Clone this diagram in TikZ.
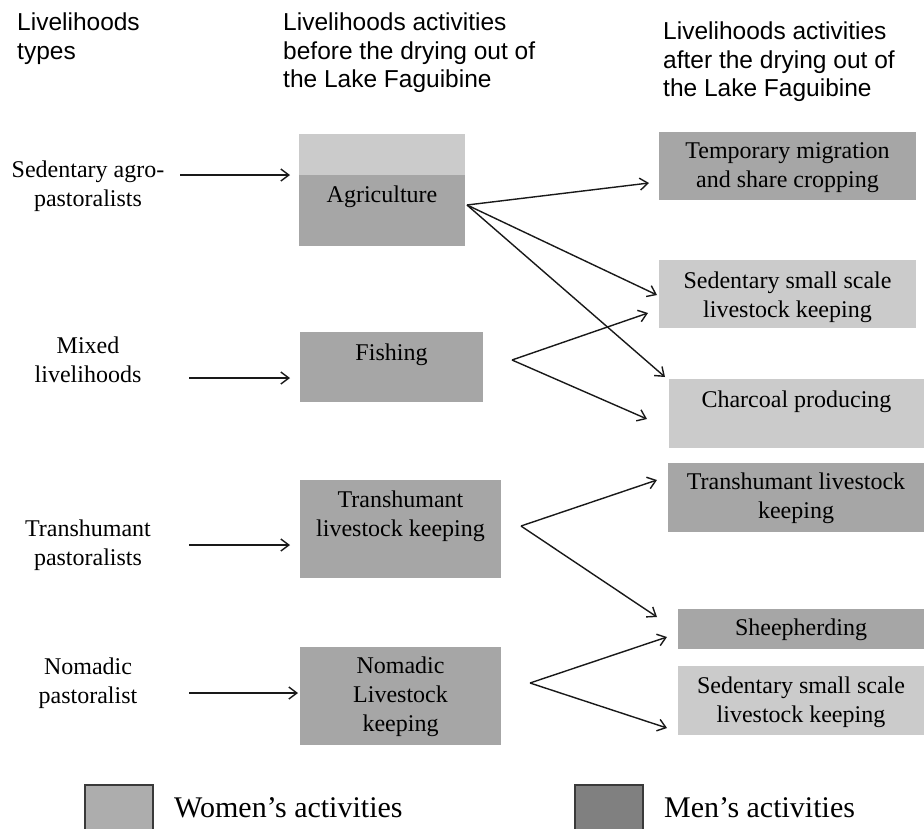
\documentclass[tikz,border=0pt]{standalone}
\usepackage{fontspec}
\setmainfont{Liberation Serif}
\newfontfamily\hdrfont{Liberation Sans}
\usetikzlibrary{arrows.meta}
\definecolor{lightg}{HTML}{CBCBCB}
\definecolor{darkg}{HTML}{A6A6A6}
\definecolor{legw}{HTML}{ADADAD}
\definecolor{legm}{HTML}{808080}
\definecolor{legborder}{HTML}{3A3A3A}
\begin{document}
\begin{tikzpicture}[x=1pt,y=-1pt,
  lightbox/.style={fill=lightg, draw=none, inner sep=0pt, outer sep=0pt, anchor=north west},
  darkbox/.style={fill=darkg, draw=none, inner sep=0pt, outer sep=0pt, anchor=north west},
  boxtext/.style={align=center, inner sep=0pt, font=\fontsize{24}{29}\selectfont},
  lefttext/.style={align=center, inner sep=0pt, font=\fontsize{24}{29}\selectfont},
  header/.style={align=left, inner sep=0pt, anchor=north west, font=\hdrfont\fontsize{24.5}{28.5}\selectfont},
  legendbox/.style={draw=legborder, line width=1.5pt, inner sep=0pt, anchor=north west, minimum width=68pt, minimum height=80pt},
  legendtext/.style={inner sep=0pt, anchor=base west, font=\fontsize{30}{36}\selectfont},
  arr/.style={-{Straight Barb[length=8pt,width=12pt]}, line width=1.4pt, black!90}
]
\clip (0,0) rectangle (924,828);
\fill[white] (0,0) rectangle (924,828);

% headers
\node[header] (h1) at (17,13) {Livelihoods\\types};
\node[header] (h2) at (283,13) {Livelihoods activities\\before the drying out of\\the Lake Faguibine};
\node[header] (h3) at (663,22) {Livelihoods activities\\after the drying out of\\the Lake Faguibine};

% left labels
\node[lefttext] (sedag) at (88,186) {Sedentary agro-\\pastoralists};
\node[lefttext] (mixed) at (88,360) {Mixed\\livelihoods};
\node[lefttext] (transp) at (88,545) {Transhumant\\pastoralists};
\node[lefttext] (nomp) at (88,683) {Nomadic\\pastoralist};

% middle boxes
\node[lightbox, minimum width=166pt, minimum height=41pt] (agrtop) at (299,134) {};
\node[darkbox, minimum width=166pt, minimum height=71pt] (agr) at (299,175) {};
\node[boxtext] (agrt) at (382,197) {Agriculture};
\node[darkbox, minimum width=183pt, minimum height=70pt] (fish) at (300,332) {};
\node[boxtext] (fisht) at (391.5,355) {Fishing};
\node[darkbox, minimum width=201pt, minimum height=98pt] (trans) at (300,480) {};
\node[boxtext] (transt) at (400.5,516) {Transhumant\\livestock keeping};
\node[darkbox, minimum width=201pt, minimum height=98pt] (nom) at (300,647) {};
\node[boxtext] (nomt) at (400.5,697) {Nomadic\\Livestock\\keeping};

% right boxes
\node[darkbox, minimum width=257pt, minimum height=68pt] (temp) at (659,132) {};
\node[boxtext] (tempt) at (787.5,168) {Temporary migration\\and share cropping};
\node[lightbox, minimum width=257pt, minimum height=68pt] (sed1) at (659,260) {};
\node[boxtext] (sed1t) at (787.5,297) {Sedentary small scale\\livestock keeping};
\node[lightbox, minimum width=255pt, minimum height=69pt] (char) at (669,379) {};
\node[boxtext] (chart) at (796.5,402) {Charcoal producing};
\node[darkbox, minimum width=256pt, minimum height=69pt] (trans2) at (668,463) {};
\node[boxtext] (trans2t) at (796,498) {Transhumant livestock\\keeping};
\node[darkbox, minimum width=246pt, minimum height=40pt] (sheep) at (678,609) {};
\node[boxtext] (sheept) at (801,630) {Sheepherding};
\node[lightbox, minimum width=246pt, minimum height=69pt] (sed2) at (678,666) {};
\node[boxtext] (sed2t) at (801,702) {Sedentary small scale\\livestock keeping};

% left arrows
\coordinate (s1) at (180,175);
\coordinate (s2) at (189,378);
\coordinate (s3) at (189,545);
\coordinate (s4) at (189,693);
\draw[arr] (s1) -- ([xshift=-9pt]agrtop.west |- s1);
\draw[arr] (s2) -- ([xshift=-10pt]fish.west |- s2);
\draw[arr] (s3) -- ([xshift=-10pt]trans.west |- s3);
\draw[arr] (s4) -- ([xshift=-2pt]nom.west |- s4);

% right arrows
\coordinate (oa) at ([shift={(2,-5.5)}]agr.east);
\coordinate (of) at ([shift={(29,-7)}]fish.east);
\coordinate (ot) at ([shift={(20,-3)}]trans.east);
\coordinate (on) at ([shift={(29,-13)}]nom.east);
\draw[arr] (oa) -- ([shift={(-10,17)}]temp.west);
\draw[arr] (oa) -- ([shift={(-2,1)}]sed1.west);
\draw[arr] (oa) -- ([shift={(-4,-2)}]char.north west);
\draw[arr] (of) -- ([shift={(-11,19)}]sed1.west);
\draw[arr] (of) -- ([shift={(-22,5.5)}]char.west);
\draw[arr] (ot) -- ([shift={(-11,-17.5)}]trans2.west);
\draw[arr] (ot) -- ([shift={(-21,-12)}]sheep.west);
\draw[arr] (on) -- ([shift={(-11,8)}]sheep.west);
\draw[arr] (on) -- ([shift={(-11,27.5)}]sed2.west);

% legend
\node[legendbox, fill=legw] (legw) at (84,784) {};
\node[legendtext] (legwt) at (174,817) {Women’s activities};
\node[legendbox, fill=legm] (legm) at (574,784) {};
\node[legendtext] (legmt) at (664,817) {Men’s activities};
\end{tikzpicture}
\end{document}
